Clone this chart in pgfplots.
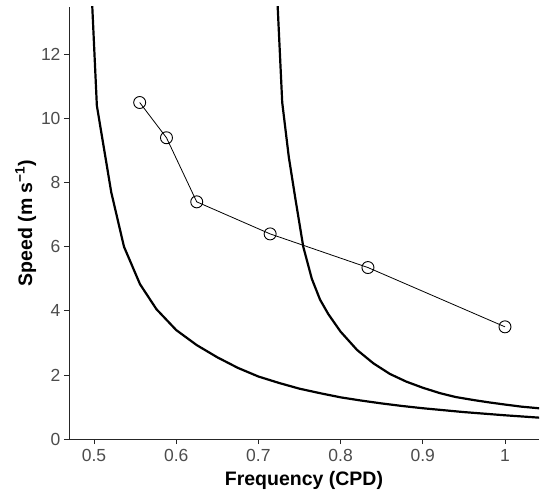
\documentclass[border=0pt]{standalone}
\usepackage{fontspec}
\setmainfont{Liberation Sans}
\usepackage{pgfplots}
\pgfplotsset{compat=1.18}
\definecolor{tickgray}{gray}{0.3}

\begin{document}
\begin{tikzpicture}
\begin{axis}[
    scale only axis,
    width=470pt, height=432pt,
    xmin=0.4696, xmax=1.0414,
    ymin=0, ymax=13.48,
    axis x line*=bottom, axis y line*=left,
    axis line style={black!85, line width=0.8pt},
    xtick={0.5,0.6,0.7,0.8,0.9,1},
    xticklabels={0.5,0.6,0.7,0.8,0.9,1},
    ytick={0,2,4,6,8,10,12},
    tick align=outside,
    major tick length=5pt,
    tick style={black!85, line width=0.8pt},
    tick label style={font=\fontsize{17.5}{20}\selectfont, text=tickgray},
    xticklabel shift=2pt,
    label style={font=\bfseries\fontsize{19.5}{22}\selectfont},
    xlabel={Frequency (CPD)},
    xlabel style={yshift=-3pt},
    ylabel={Speed (m s\textsuperscript{−1})},
    ylabel style={yshift=-2pt},
    /pgf/number format/assume math mode=true,
    clip=true,
]

% lower dispersion curve
\addplot[black, line width=2.2pt] coordinates {
    (0.4970,14.0) (0.5035,10.4) (0.5210,7.7) (0.5365,6.0) (0.5560,4.83)
    (0.5760,4.05) (0.6000,3.40) (0.6250,2.93) (0.6500,2.55) (0.6750,2.22)
    (0.7000,1.95) (0.7250,1.75) (0.7500,1.57) (0.7750,1.43) (0.8000,1.30)
    (0.8250,1.20) (0.8500,1.11) (0.8750,1.03) (0.9000,0.96) (0.9500,0.84)
    (1.0000,0.74) (1.0450,0.66)
};

% upper dispersion curve
\addplot[black, line width=2.2pt] coordinates {
    (0.7225,14.0) (0.7235,13.48) (0.7290,10.5) (0.7370,8.8) (0.7450,7.5)
    (0.7546,6.0) (0.7650,5.0) (0.7750,4.35) (0.7850,3.9) (0.8000,3.35)
    (0.8200,2.78) (0.8400,2.36) (0.8600,2.03) (0.8800,1.79) (0.9000,1.60)
    (0.9210,1.43) (0.9400,1.31) (0.9620,1.215) (0.9800,1.145) (1.0000,1.075)
    (1.0200,1.01) (1.0450,0.95)
};

% observed speeds
\addplot[black, line width=0.8pt, mark=o, mark size=6pt,
         mark options={line width=0.9pt}] coordinates {
    (0.5556,10.5) (0.5882,9.4) (0.6250,7.4) (0.7143,6.4) (0.8333,5.35) (1.0,3.5)
};

\coordinate (bbsw) at (rel axis cs:0,0);
\coordinate (bbne) at (rel axis cs:1,1);
\end{axis}
\pgfresetboundingbox
\path ([shift={(-69pt,-57pt)}]bbsw) rectangle ([shift={(1pt,7pt)}]bbne);
\end{tikzpicture}
\end{document}
